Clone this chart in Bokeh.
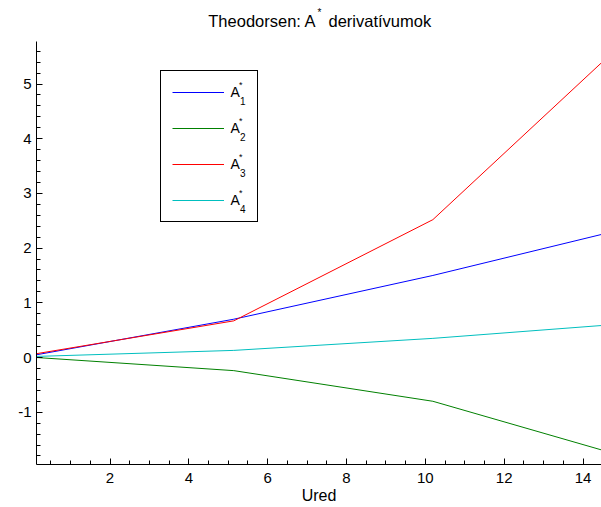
from bokeh.plotting import figure
from bokeh.models import (Range1d, SingleIntervalTicker, Legend, LegendItem, Label,
                          PrintfTickFormatter)
from bokeh.embed import file_html
from bokeh.resources import INLINE

# ---- data ----
ured = [0.135, 5.14, 10.19, 14.47]
a1 = [0.05, 0.70, 1.50, 2.25]
a2 = [0.0, -0.24, -0.80, -1.69]
a3 = [0.07, 0.67, 2.52, 5.39]
a4 = [0.02, 0.13, 0.35, 0.585]
series = [a1, a2, a3, a4]
subs = ["1", "2", "3", "4"]
colors = ["#0000ff", "#008000", "#ff0000", "#00bfbf"]
title_main = "Theodorsen: A"
title_rest = "derivatívumok"
xlabel = "Ured"

FONT = "Liberation Sans"

# axes limits
X0, X1 = 0.135, 14.468
Y0, Y1 = -1.956, 5.777

# frame placement on the canvas (pixels); frame reaches the canvas top so the
# title labels are drawn inside it, the y axis itself stops at Y1 (bounds)
FL, FB, AXTOP = 36, 464, 41
ppu = (FB - AXTOP) / (Y1 - Y0)
Ytop = Y0 + FB / ppu

p = figure(width=601, height=507, output_backend="svg", toolbar_location=None,
           x_range=Range1d(X0, X1), y_range=Range1d(Y0, Ytop),
           min_border_left=FL, min_border_right=0, min_border_top=0,
           min_border_bottom=507 - FB)
p.xgrid.visible = False
p.ygrid.visible = False
p.outline_line_color = None
p.background_fill_color = "white"
p.border_fill_color = "white"

p.xaxis.ticker = SingleIntervalTicker(interval=2, num_minor_ticks=4)
p.yaxis.ticker = SingleIntervalTicker(interval=1, num_minor_ticks=5)
p.xaxis.formatter = PrintfTickFormatter(format="%d")
p.yaxis.formatter = PrintfTickFormatter(format="%d")
p.yaxis.bounds = (Y0, Y1)
for ax in (p.xaxis[0], p.yaxis[0]):
    ax.major_tick_in = 6
    ax.major_tick_out = 0
    ax.minor_tick_in = 4
    ax.minor_tick_out = 0
    ax.axis_line_color = "black"
    ax.major_tick_line_color = "black"
    ax.minor_tick_line_color = "black"
    ax.major_label_text_font = FONT
    ax.major_label_text_font_size = "15px"
    ax.major_label_text_color = "black"
p.xaxis.major_label_standoff = 8
p.yaxis.major_label_standoff = 5
p.xaxis.axis_label = xlabel
p.xaxis.axis_label_text_font = FONT
p.xaxis.axis_label_text_font_size = "16px"
p.xaxis.axis_label_text_font_style = "normal"
p.xaxis.axis_label_text_color = "black"
p.xaxis.axis_label_standoff = 1

items = []
for ys, c in zip(series, colors):
    r = p.line(ured, ys, line_color=c, line_width=1)
    items.append(LegendItem(label="A", renderers=[r]))

legend = Legend(items=items, location=(123.5, 242.5), border_line_color="black",
                border_line_alpha=1.0, border_line_width=1, padding=11,
                spacing=16, glyph_width=52, glyph_height=20, label_height=20,
                label_width=15, label_standoff=7, label_text_font=FONT,
                label_text_font_size="14px", label_text_color="black",
                margin=0, background_fill_alpha=0.0)
p.add_layout(legend)

# page (X, Y) -> screen units (relative to frame left / frame bottom)
def sx(X):
    return X - FL
def sy(Y):
    return FB - Y

def lab(X, Y, text, size, align="left"):
    p.add_layout(Label(x=sx(X), y=sy(Y), x_units="screen", y_units="screen",
                       text=text, text_align=align, text_baseline="middle",
                       text_font=FONT, text_font_size=size, text_color="black",
                       level="overlay"))

# title pieces
lab(316, 20, title_main, "16.5px", "right")
lab(317, 12, "*", "10px")
lab(328, 20, title_rest, "16.5px")

# legend super/subscripts
for i, s in enumerate(subs):
    rc = 92 + 36 * i
    lab(238.5, rc - 8, "*", "9px")
    lab(239.5, rc + 8, s, "10px")

open("out.html", "w").write(file_html(p, INLINE))
